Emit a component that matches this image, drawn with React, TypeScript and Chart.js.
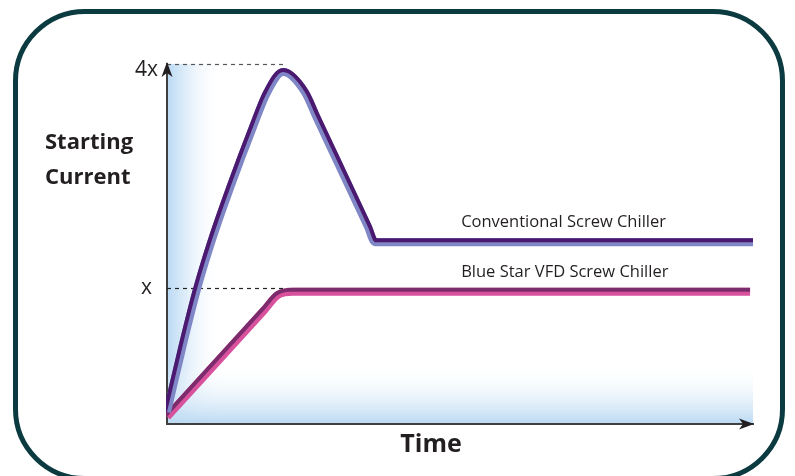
import React, { useEffect, useRef } from "react";
import { Chart, registerables } from "chart.js";
Chart.register(...registerables);

// ---- data ----
const convTime = [0, 2.78, 5.17, 7.85, 10.75, 14.68, 17.06, 19.8, 23.5, 25.5, 34.3, 35.5, 100];
const convCurrent = [0.133, 0.9, 1.51, 2.08, 2.62, 3.3, 3.68, 3.91, 3.69, 3.41, 2.19, 2.02, 2.02];
const vfdTime = [0, 16.5, 19.0, 21.5, 99.5];
const vfdCurrent = [0.08, 1.258, 1.437, 1.47, 1.47];
const seriesNames = ["Conventional Screw Chiller", "Blue Star VFD Screw Chiller"];
const seriesLight = ["#8087c6", "#d8519c"];
const seriesDark = ["#4b196f", "#7c2c6d"];
const yTickValues = [1.51, 3.93];
const yTickLabels = ["x", "4x"];
const yGuideValues = [1.51, 4];
const yTitleLines = ["Starting", "Current"];
const xTitle = "Time";
const labelTime = 50.2;
const yMax = 4;
const xMax = 100;

const TEXT = "#231f20";
const FONT = '"Open Sans", "Noto Sans", sans-serif';

const decor = {
  id: "decor",
  beforeDraw(chart: any) {
    const { ctx, chartArea: a } = chart;
    ctx.save();
    let g = ctx.createLinearGradient(a.left, 0, a.left + 55, 0);
    g.addColorStop(0, "rgba(186,217,243,1)");
    g.addColorStop(0.25, "rgba(206,228,247,0.85)");
    g.addColorStop(1, "rgba(255,255,255,0)");
    ctx.fillStyle = g;
    ctx.fillRect(a.left, a.top, 55, a.bottom - a.top);
    g = ctx.createLinearGradient(0, a.bottom, 0, a.bottom - 60);
    g.addColorStop(0, "rgba(186,217,243,1)");
    g.addColorStop(0.3, "rgba(210,230,247,0.75)");
    g.addColorStop(1, "rgba(255,255,255,0)");
    ctx.fillStyle = g;
    ctx.fillRect(a.left, a.bottom - 60, a.right - a.left, 60);
    ctx.restore();
  },
  beforeDatasetsDraw(chart: any) {
    const { ctx, chartArea: a, scales } = chart;
    const xs = scales.x, ys = scales.y;
    const peakIdx = convCurrent.indexOf(Math.max(...convCurrent));
    const ends = [xs.getPixelForValue(vfdTime[3]), xs.getPixelForValue(convTime[peakIdx]) + 3];
    ctx.save();
    ctx.setLineDash([4, 4]);
    ctx.lineWidth = 1.2;
    yGuideValues.forEach((v, i) => {
      const y = Math.round(ys.getPixelForValue(v)) + 0.5;
      ctx.strokeStyle = i === 0 ? "#222" : "#555";
      ctx.beginPath();
      ctx.moveTo(a.left, y);
      ctx.lineTo(ends[i], y);
      ctx.stroke();
    });
    ctx.restore();
  },
  afterDatasetDraw(chart: any, args: any) {
    const ds: any = chart.data.datasets[args.index];
    if (!ds.topColor) return;
    const meta = args.meta;
    const line: any = meta.dataset;
    const pts = meta.data;
    const { ctx, chartArea: a } = chart;
    const first = pts[0], last = pts[pts.length - 1];
    ctx.save();
    ctx.beginPath();
    ctx.rect(a.left - 1, a.top - 20, a.right - a.left + 6, a.bottom - a.top + 25);
    ctx.clip();
    ctx.beginPath();
    line.path(ctx);
    ctx.lineTo(last.x + 30, last.y);
    ctx.lineTo(last.x + 30, a.top - 60);
    ctx.lineTo(first.x - 30, a.top - 60);
    ctx.lineTo(first.x - 30, first.y);
    ctx.closePath();
    ctx.clip();
    ctx.beginPath();
    line.path(ctx);
    ctx.strokeStyle = ds.topColor;
    ctx.lineWidth = ds.borderWidth;
    ctx.lineJoin = "round";
    ctx.lineCap = "butt";
    ctx.stroke();
    ctx.restore();
  },
  afterDraw(chart: any) {
    const { ctx, chartArea: a, scales } = chart;
    const xs = scales.x, ys = scales.y;
    ctx.save();
    ctx.fillStyle = TEXT;
    // y arrow
    ctx.beginPath();
    ctx.moveTo(a.left, a.top - 2);
    ctx.lineTo(a.left - 5.5, a.top + 13);
    ctx.lineTo(a.left, a.top + 9);
    ctx.lineTo(a.left + 5.5, a.top + 13);
    ctx.closePath();
    ctx.fill();
    // x arrow
    ctx.beginPath();
    ctx.moveTo(a.right + 1, a.bottom);
    ctx.lineTo(a.right - 14, a.bottom - 5.5);
    ctx.lineTo(a.right - 10, a.bottom);
    ctx.lineTo(a.right - 14, a.bottom + 5.5);
    ctx.closePath();
    ctx.fill();
    // titles
    ctx.font = `bold 22px ${FONT}`;
    ctx.textAlign = "left";
    ctx.textBaseline = "alphabetic";
    ctx.fillText(yTitleLines[0], 45, 149);
    ctx.fillText(yTitleLines[1], 45, 184);
    ctx.font = `bold 25px ${FONT}`;
    ctx.textAlign = "center";
    ctx.fillText(xTitle, 431, 452);
    // series labels
    ctx.font = `16.5px ${FONT}`;
    ctx.textAlign = "left";
    const plateaus = [convCurrent[convCurrent.length - 1], vfdCurrent[vfdCurrent.length - 1]];
    plateaus.forEach((v, i) => {
      ctx.fillText(seriesNames[i], xs.getPixelForValue(labelTime), ys.getPixelForValue(v) - 15);
    });
    ctx.restore();
  },
};

export default function App() {
  const ref = useRef<HTMLCanvasElement>(null);
  useEffect(() => {
    const mk = (t: number[], c: number[]) => t.map((x, i) => ({ x, y: c[i] }));
    const chart = new Chart(ref.current as HTMLCanvasElement, {
      type: "line",
      data: {
        datasets: [
          {
            label: seriesNames[0],
            data: mk(convTime, convCurrent),
            borderColor: seriesLight[0],
            topColor: seriesDark[0],
            borderWidth: 8,
            pointRadius: 0,
            fill: false,
            cubicInterpolationMode: "monotone",
            borderCapStyle: "butt",
            borderJoinStyle: "round",
          } as any,
          {
            label: seriesNames[1],
            data: mk(vfdTime, vfdCurrent),
            borderColor: seriesLight[1],
            topColor: seriesDark[1],
            borderWidth: 8,
            pointRadius: 0,
            fill: false,
            cubicInterpolationMode: "monotone",
            borderCapStyle: "butt",
            borderJoinStyle: "round",
          } as any,
        ],
      },
      options: {
        animation: false,
        responsive: false,
        events: [],
        layout: { padding: { left: 0, top: 64, right: 42, bottom: 52 } },
        plugins: { legend: { display: false }, tooltip: { enabled: false } },
        scales: {
          x: {
            type: "linear",
            min: 0,
            max: xMax,
            grid: { display: false, drawTicks: false },
            border: { display: true, color: "#3f3f3f", width: 2 },
            ticks: { display: false },
            afterFit: (s: any) => { s.height = 0; },
          },
          y: {
            type: "linear",
            min: 0,
            max: yMax,
            grid: { display: false, drawTicks: false },
            border: { display: true, color: "#3f3f3f", width: 2 },
            afterBuildTicks: (s: any) => { s.ticks = yTickValues.map((v) => ({ value: v })); },
            afterFit: (s: any) => { s.width = 167; },
            ticks: {
              crossAlign: "center",
              padding: 9,
              color: TEXT,
              font: { family: FONT, size: 21 },
              callback: (v: any) => {
                const i = yTickValues.indexOf(Number(v));
                return i >= 0 ? yTickLabels[i] : "";
              },
            },
          },
        },
      } as any,
      plugins: [decor],
    });
    return () => chart.destroy();
  }, []);
  return (
    <div style={{ position: "fixed", left: 0, top: 0, width: 795, height: 476, overflow: "hidden", background: "#fff" }}>
      <div
        style={{
          position: "absolute",
          left: 13,
          top: 9,
          width: 772,
          height: 472,
          boxSizing: "border-box",
          border: "5px solid #0b3b40",
          borderRadius: 72,
        }}
      />
      <canvas ref={ref} width={795} height={476} style={{ position: "absolute", left: 0, top: 0 }} />
    </div>
  );
}
